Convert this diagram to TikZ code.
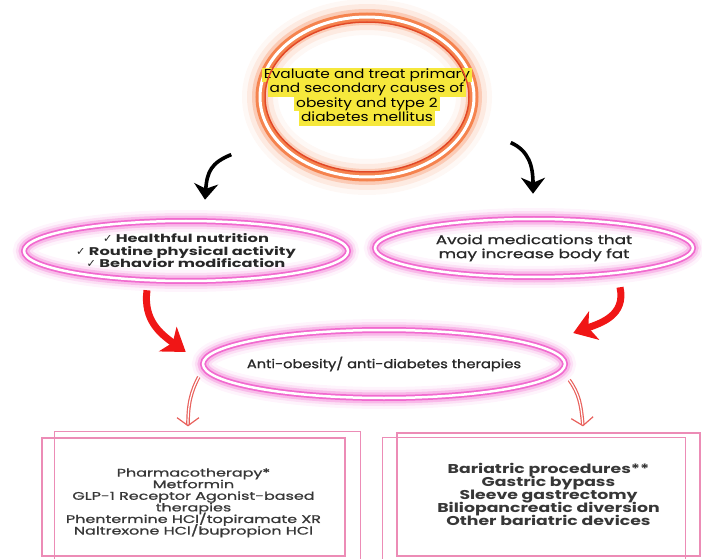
\documentclass[tikz,border=0pt]{standalone}
\usepackage{fontspec}
\setmainfont{Poppins}
\newfontfamily\popwide{Poppins}[FakeStretch=1.2]
\newfontfamily\popwidemed{Poppins}[FakeStretch=1.2, FakeBold=1.2]
\newfontfamily\popwider{Poppins}[FakeStretch=1.35]
\newfontfamily\popwidermed{Poppins}[FakeStretch=1.35, FakeBold=1.2]
\newfontfamily\popwidest{Poppins}[FakeStretch=1.45]
\newfontfamily\popwidestmed{Poppins}[FakeStretch=1.45, FakeBold=1.2]
\newfontfamily\symfont{DejaVu Sans}
\usetikzlibrary{shapes.geometric, arrows.meta}

\definecolor{glowpink}{RGB}{238,72,196}
\definecolor{glowor}{RGB}{243,112,52}
\definecolor{ringred}{RGB}{226,72,38}
\definecolor{hly}{RGB}{246,232,60}
\definecolor{boxpink}{RGB}{236,140,182}
\definecolor{arrred}{RGB}{240,22,22}
\definecolor{arrsalmon}{RGB}{232,96,92}
\definecolor{txtgray}{RGB}{40,40,40}
\definecolor{boxtxt}{RGB}{55,55,55}

\setlength{\fboxsep}{0pt}
\setlength{\lineskiplimit}{-\maxdimen}
\newcommand\hl[1]{\colorbox{hly}{\strut\kern2pt#1\kern2pt}}
\newcommand\chk{{\symfont\char"2713}}

\tikzset{
  pinkglow/.style={ellipse, inner xsep=-40pt, inner ysep=-4pt, draw=white, line width=2.5pt,
    preaction={draw=glowpink, line width=22pt, draw opacity=.06},
    preaction={draw=glowpink, line width=16pt, draw opacity=.12},
    preaction={draw=glowpink, line width=11pt, draw opacity=.25},
    preaction={draw=glowpink, line width=6pt, draw opacity=.7},
    text=txtgray, align=center},
  orglow/.style={ellipse, inner xsep=-36pt, inner ysep=0pt, draw=white, line width=3pt,
    preaction={draw=glowor, line width=36pt, draw opacity=.05},
    preaction={draw=glowor, line width=26pt, draw opacity=.1},
    preaction={draw=glowor, line width=16pt, draw opacity=.25},
    preaction={draw=glowor, line width=9pt, draw opacity=.8},
    align=center},
  twobox/.style={rectangle, draw=boxpink, line width=1.2pt, align=center, text=boxtxt},
  blackarr/.style={line width=3.6pt, black, -{Stealth[length=16pt, width=24pt, inset=5pt]}},
  redarr/.style={line width=7pt, arrred, -{Stealth[length=22pt, width=30pt, inset=6pt]}},
  softarr/.style={draw=arrsalmon, double=white, double distance=1.2pt, line width=1.2pt,
    -{Straight Barb[length=8pt, width=22pt]}}
}

\begin{document}
\begin{tikzpicture}[x=1pt, y=-1pt]
\useasboundingbox (0,0) rectangle (702,559);

% goal
\node[orglow, minimum width=214, minimum height=160,
  font=\popwide\fontsize{12.8}{14.5}\selectfont] (top) at (367,97)
  {\hl{Evaluate and treat primary}\\ \hl{and secondary causes of}\\
   \hl{obesity and type 2}\\ \hl{diabetes mellitus}};
\draw[ringred, line width=1.5pt] (top.center) ellipse [x radius=102, y radius=75];

% first steps
\node[pinkglow, minimum width=324, minimum height=60,
  font=\popwidest\fontsize{11.2}{12.5}\selectfont\bfseries] (life) at (186,251)
  {\chk\ Healthful nutrition\\ \chk\ Routine physical activity\\
   \chk\ Behavior modification};
\node[pinkglow, minimum width=318, minimum height=58,
  font=\popwidermed\fontsize{12.5}{14}\selectfont] (avoid) at (534,248)
  {Avoid medications that\\ may increase body fat};

\node[pinkglow, minimum width=362, minimum height=68,
  font=\popwidemed\fontsize{12.2}{13}\selectfont] (therapy) at (384,364)
  {Anti-obesity/ anti-diabetes therapies};

% options
\node[twobox, minimum width=303, minimum height=118,
  font=\popwidestmed\fontsize{11}{11.6}\selectfont] (pharm) at (193.5,497)
  {\rule{0pt}{20pt}Pharmacotherapy*\\ Metformin\\ GLP-1 Receptor Agonist-based\\
   therapies\\ Phentermine HCl/topiramate XR\\ Naltrexone HCl/bupropion HCl};
\draw[boxpink, line width=1.2pt] ([shift={(13,-6)}]pharm.north west) rectangle ([shift={(15,4)}]pharm.south east);

\node[twobox, minimum width=303, minimum height=123,
  font=\popwider\fontsize{12.8}{13}\selectfont\bfseries] (bari) at (548.5,494.5)
  {Bariatric procedures**\\ Gastric bypass\\ Sleeve gastrectomy\\
   Biliopancreatic diversion\\ Other bariatric devices};
\draw[boxpink, line width=1.2pt] ([shift={(-14,5)}]bari.north west) rectangle ([shift={(-15,5)}]bari.south east);

\draw[blackarr] ([xshift=-59pt]top.south west) .. controls +(-20,8) and +(2,-28) .. ([xshift=19pt, yshift=20pt]life.north);
\draw[blackarr] ([xshift=67pt, yshift=12pt]top.south east) .. controls +(18,8) and +(0,-28) .. ([xshift=-1pt, yshift=24pt]avoid.north);

\draw[redarr] ([xshift=-39pt, yshift=-8pt]life.south) .. controls +(-4,30) and +(-25,-18) .. ([xshift=-16pt, yshift=12pt]therapy.west);
\draw[redarr] ([xshift=86pt, yshift=-9pt]avoid.south) .. controls +(6,28) and +(28,-10) .. ([xshift=7pt, yshift=31pt]therapy.east);

\draw[softarr] ([xshift=-3pt, yshift=-13pt]therapy.west) .. controls +(-8,15) and +(0,-22) .. ([xshift=-5.5pt, yshift=11pt]pharm.north);
\draw[softarr] ([xshift=3pt, yshift=-16pt]therapy.east) .. controls +(10,14) and +(-2,-22) .. ([xshift=34.5pt, yshift=6pt]bari.north);

\end{tikzpicture}
\end{document}
